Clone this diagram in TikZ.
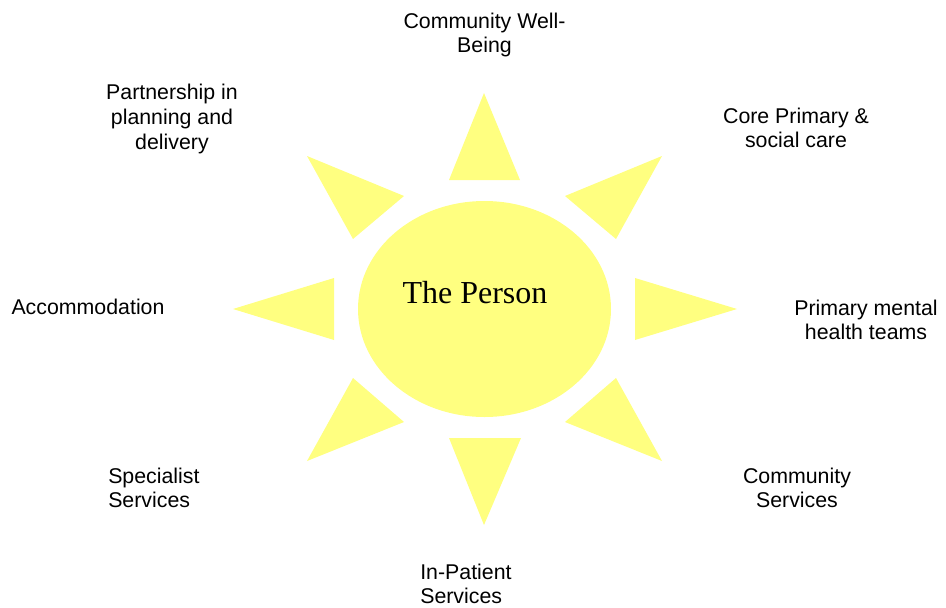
\documentclass[tikz,border=0pt]{standalone}
\usepackage{fontspec}
\setmainfont{Liberation Sans}
\newfontfamily\personfont{Liberation Serif}
\usetikzlibrary{positioning}
\definecolor{sunyellow}{RGB}{255,255,128}
\tikzset{
    ray/.style = {fill=sunyellow, draw=none},
    sunbody/.style = {fill=sunyellow, draw=none},
    service/.style = {align=center, inner sep=0pt, font=\fontsize{16}{18.4}\selectfont},
    servicel/.style = {align=left, inner sep=0pt, font=\fontsize{16}{18.4}\selectfont},
    person/.style = {inner sep=0pt, font=\personfont\fontsize{24}{28}\selectfont}
}

\begin{document}
\begin{tikzpicture}[x=0.75pt,y=-0.75pt]
  \useasboundingbox (0,0) rectangle (946,607);

  % the sun
  \fill[sunbody] (484.5,309) ellipse [x radius=126.5, y radius=108];
  \fill[ray] (484,93) -- (449,180) -- (520,180) -- cycle;
  \fill[ray] (484,525) -- (449,438) -- (521,438) -- cycle;
  \fill[ray] (233,309) -- (334,278) -- (334,340) -- cycle;
  \fill[ray] (737,309) -- (635,278) -- (635,340) -- cycle;
  \fill[ray] (307,156) -- (404,196) -- (353,239) -- cycle;
  \fill[ray] (662,156) -- (565,196) -- (616,239) -- cycle;
  \fill[ray] (307,461) -- (404,422) -- (353,378) -- cycle;
  \fill[ray] (662,461) -- (565,422) -- (616,378) -- cycle;

  \node[person] (centre) at (475,293) {The Person};

  % services round the sun
  \node[service] (wellbeing) at (484.5,35) {Community Well-\\Being};
  \node[service] (partner) at (172,119) {Partnership in\\planning and\\delivery};
  \node[service] (core) at (796,128) {Core Primary \&\\social care};
  \node[service] (accom) at (88,307) {Accommodation};
  \node[service] (mental) at (866,320) {Primary mental\\health teams};
  \node[servicel, anchor=west] (specialist) at (108,488) {Specialist\\Services};
  \node[service] (community) at (797,488) {Community\\Services};
  \node[servicel, anchor=west] (inpatient) at (420,584) {In-Patient\\Services};
\end{tikzpicture}
\end{document}
